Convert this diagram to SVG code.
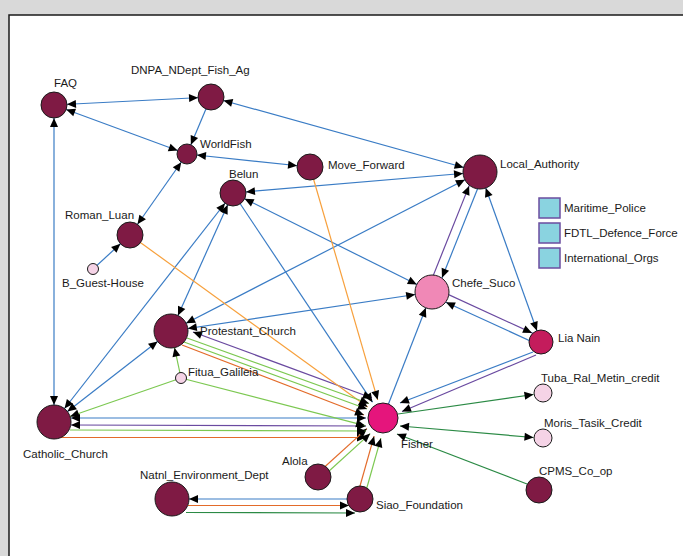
<svg xmlns="http://www.w3.org/2000/svg" width="683" height="556" viewBox="0 0 683 556">
<style>
.e{fill:none;stroke-width:1.2}
.b{stroke:#3a7cc5}
.p{stroke:#6a4aa0}
.o1{stroke:#f7a03c}
.o2{stroke:#e36b2a}
.g1{stroke:#7cc851}
.g2{stroke:#2b8a45}
.n{stroke:#1a1a1a;stroke-width:1}
.m{fill:#7f1a44}
.lp{fill:#f5d3e6}
.t{font-family:"Liberation Sans",Arial,sans-serif;font-size:11.5px;fill:#1a1a1a}
.lg{fill:#8ad3e0;stroke:#6b4ea0;stroke-width:1.5}
</style>
<defs>
<marker id="a0" markerUnits="userSpaceOnUse" markerWidth="9" markerHeight="8" refX="9" refY="4" orient="auto-start-reverse" overflow="visible"><path d="M0,0L9,4L0,8z" fill="#000"/></marker>
<marker id="a10" markerUnits="userSpaceOnUse" markerWidth="9" markerHeight="8" refX="19" refY="4" orient="auto-start-reverse" overflow="visible"><path d="M0,0L9,4L0,8z" fill="#000"/></marker>
<marker id="a12" markerUnits="userSpaceOnUse" markerWidth="9" markerHeight="8" refX="21" refY="4" orient="auto-start-reverse" overflow="visible"><path d="M0,0L9,4L0,8z" fill="#000"/></marker>
<marker id="a13" markerUnits="userSpaceOnUse" markerWidth="9" markerHeight="8" refX="22" refY="4" orient="auto-start-reverse" overflow="visible"><path d="M0,0L9,4L0,8z" fill="#000"/></marker>
<marker id="a17" markerUnits="userSpaceOnUse" markerWidth="9" markerHeight="8" refX="26" refY="4" orient="auto-start-reverse" overflow="visible"><path d="M0,0L9,4L0,8z" fill="#000"/></marker>
</defs>
<rect x="0" y="0" width="683" height="556" fill="#d9d9d9"/>
<rect x="9" y="15" width="690" height="560" fill="#fff" stroke="#1a1a1a" stroke-width="1.5"/>
<g id="connectors">
<line class="e b" x1="54" y1="105" x2="211" y2="97" marker-start="url(#a13)" marker-end="url(#a13)"/>
<line class="e b" x1="54" y1="105" x2="187" y2="154" marker-start="url(#a13)" marker-end="url(#a10)"/>
<line class="e b" x1="211" y1="97" x2="187" y2="154" marker-end="url(#a10)"/>
<line class="e b" x1="211" y1="97" x2="480" y2="172" marker-start="url(#a13)" marker-end="url(#a17)"/>
<line class="e b" x1="187" y1="154" x2="310" y2="167" marker-start="url(#a10)" marker-end="url(#a13)"/>
<line class="e b" x1="187" y1="154" x2="130" y2="235" marker-start="url(#a10)" marker-end="url(#a13)"/>
<line class="e b" x1="93" y1="269" x2="130" y2="235" marker-end="url(#a13)"/>
<line class="e b" x1="233" y1="193" x2="480" y2="172" marker-start="url(#a13)" marker-end="url(#a17)"/>
<line class="e b" x1="233" y1="193" x2="432" y2="292" marker-start="url(#a13)" marker-end="url(#a17)"/>
<line class="e b" x1="54" y1="422" x2="233" y2="193" marker-start="url(#a17)" marker-end="url(#a13)"/>
<line class="e b" x1="171" y1="331" x2="233" y2="193" marker-start="url(#a17)" marker-end="url(#a13)"/>
<line class="e b" x1="171" y1="331" x2="480" y2="172" marker-start="url(#a17)" marker-end="url(#a17)"/>
<line class="e b" x1="171" y1="331" x2="432" y2="292" marker-start="url(#a17)" marker-end="url(#a17)"/>
<line class="e b" x1="54" y1="422" x2="171" y2="331" marker-start="url(#a17)" marker-end="url(#a17)"/>
<line class="e b" x1="54" y1="105" x2="54" y2="422" marker-start="url(#a13)" marker-end="url(#a17)"/>
<line class="e b" x1="480" y1="172" x2="541" y2="342" marker-start="url(#a17)" marker-end="url(#a12)"/>
<line class="e b" x1="483.7" y1="173.5" x2="435.7" y2="293.5" marker-end="url(#a17)"/>
<line class="e b" x1="539.5" y1="345.2" x2="430.5" y2="295.2" marker-end="url(#a17)"/>
<line class="e b" x1="383" y1="418" x2="432" y2="292" marker-end="url(#a17)"/>
<line class="e b" x1="233" y1="193" x2="372.5" y2="402.2" marker-end="url(#a0)"/>
<line class="e b" x1="533" y1="352" x2="400" y2="403" marker-end="url(#a0)"/>
<line class="e b" x1="366" y1="418" x2="71" y2="418" marker-start="url(#a0)" marker-end="url(#a0)"/>
<line class="e b" x1="348" y1="499" x2="189" y2="499" marker-end="url(#a0)"/>
<line class="e p" x1="427.4" y1="290.1" x2="475.4" y2="170.1" marker-end="url(#a17)"/>
<line class="e p" x1="433.9" y1="287.9" x2="542.9" y2="337.9" marker-end="url(#a12)"/>
<line class="e p" x1="536" y1="355" x2="402" y2="411.5" marker-end="url(#a0)"/>
<line class="e p" x1="372" y1="398" x2="193" y2="332" marker-start="url(#a0)" marker-end="url(#a0)"/>
<line class="e p" x1="366" y1="426" x2="71" y2="425" marker-start="url(#a0)" marker-end="url(#a0)"/>
<line class="e o1" x1="310" y1="167" x2="377.7" y2="399.8" marker-end="url(#a0)"/>
<line class="e o1" x1="130" y1="235" x2="367.6" y2="406.9" marker-end="url(#a0)"/>
<line class="e o2" x1="182" y1="345" x2="364" y2="415" marker-end="url(#a0)"/>
<line class="e o2" x1="60" y1="437.5" x2="366" y2="437.5" marker-end="url(#a0)"/>
<line class="e o2" x1="316" y1="474.8" x2="366.9" y2="428.6" marker-end="url(#a0)"/>
<line class="e o2" x1="356.6" y1="498" x2="374.1" y2="436.2" marker-end="url(#a0)"/>
<line class="e o2" x1="188" y1="505.5" x2="349" y2="505.5" marker-end="url(#a0)"/>
<line class="e g1" x1="187" y1="338" x2="369" y2="403.5" marker-end="url(#a0)"/>
<line class="e g1" x1="184" y1="342" x2="367" y2="409" marker-end="url(#a0)"/>
<line class="e g1" x1="181" y1="378" x2="171" y2="331" marker-end="url(#a17)"/>
<line class="e g1" x1="181" y1="378" x2="54" y2="422" marker-end="url(#a17)"/>
<line class="e g1" x1="181" y1="378" x2="365" y2="425.6" marker-end="url(#a0)"/>
<line class="e g1" x1="70" y1="430" x2="366" y2="431" marker-end="url(#a0)"/>
<line class="e g1" x1="320" y1="479.2" x2="370.2" y2="433.6" marker-end="url(#a0)"/>
<line class="e g1" x1="363.4" y1="500" x2="380.9" y2="438.2" marker-end="url(#a0)"/>
<line class="e g2" x1="398" y1="414" x2="533.5" y2="394.5" marker-end="url(#a0)"/>
<line class="e g2" x1="400" y1="426" x2="533.5" y2="437.5" marker-start="url(#a0)" marker-end="url(#a0)"/>
<line class="e g2" x1="527" y1="484" x2="397" y2="434" marker-end="url(#a0)"/>
<line class="e g2" x1="186" y1="512.5" x2="355" y2="513" marker-end="url(#a0)"/>
</g>
<g id="FAQ"><circle class="n m" cx="54" cy="105" r="13"/><text class="t" x="54" y="87">FAQ</text></g>
<g id="DNPA_NDept_Fish_Ag"><circle class="n m" cx="211" cy="97" r="13"/><text class="t" x="131" y="74">DNPA_NDept_Fish_Ag</text></g>
<g id="WorldFish"><circle class="n m" cx="187" cy="154" r="10"/><text class="t" x="200" y="148">WorldFish</text></g>
<g id="Move_Forward"><circle class="n m" cx="310" cy="167" r="13"/><text class="t" x="328" y="169">Move_Forward</text></g>
<g id="Belun"><circle class="n m" cx="233" cy="193" r="13"/><text class="t" x="229" y="178">Belun</text></g>
<g id="Roman_Luan"><circle class="n m" cx="130" cy="235" r="13"/><text class="t" x="65" y="219">Roman_Luan</text></g>
<g id="B_Guest-House"><circle class="n lp" cx="93" cy="269" r="5.5"/><text class="t" x="62" y="286.5">B_Guest-House</text></g>
<g id="Local_Authority"><circle class="n m" cx="480" cy="172" r="17"/><text class="t" x="500" y="167.5">Local_Authority</text></g>
<g id="Chefe_Suco"><circle class="n" cx="432" cy="292" r="17" fill="#f088b6"/><text class="t" x="452" y="287">Chefe_Suco</text></g>
<g id="Lia_Nain"><circle class="n" cx="541" cy="342" r="12" fill="#c41c5c"/><text class="t" x="558" y="341.5">Lia Nain</text></g>
<g id="Protestant_Church"><circle class="n m" cx="171" cy="331" r="17"/><text class="t" x="200" y="334.5">Protestant_Church</text></g>
<g id="Fitua_Galileia"><circle class="n lp" cx="181" cy="378" r="5.5"/><text class="t" x="188" y="376">Fitua_Galileia</text></g>
<g id="Catholic_Church"><circle class="n m" cx="54" cy="422" r="17"/><text class="t" x="23" y="458">Catholic_Church</text></g>
<g id="Fisher"><circle class="n" cx="383" cy="418" r="15" fill="#e5157c"/><text class="t" x="401" y="448">Fisher</text></g>
<g id="Alola"><circle class="n m" cx="318" cy="477" r="13"/><text class="t" x="282" y="465">Alola</text></g>
<g id="Natnl_Environment_Dept"><circle class="n m" cx="172" cy="499" r="17"/><text class="t" x="140" y="479">Natnl_Environment_Dept</text></g>
<g id="Siao_Foundation"><circle class="n m" cx="360" cy="499" r="13"/><text class="t" x="376" y="509">Siao_Foundation</text></g>
<g id="Tuba_Ral_Metin_credit"><circle class="n lp" cx="543" cy="393" r="9"/><text class="t" x="541" y="381.5">Tuba_Ral_Metin_credit</text></g>
<g id="Moris_Tasik_Credit"><circle class="n lp" cx="543" cy="438" r="9"/><text class="t" x="544" y="426.5">Moris_Tasik_Credit</text></g>
<g id="CPMS_Co_op"><circle class="n m" cx="539" cy="490" r="13"/><text class="t" x="539" y="474.5">CPMS_Co_op</text></g>
<g id="Maritime_Police"><rect class="lg" x="539" y="198" width="21" height="20"/><text class="t" x="564" y="212">Maritime_Police</text></g>
<g id="FDTL_Defence_Force"><rect class="lg" x="539" y="223" width="21" height="20"/><text class="t" x="564" y="237">FDTL_Defence_Force</text></g>
<g id="International_Orgs"><rect class="lg" x="539" y="248" width="21" height="20"/><text class="t" x="564" y="262">International_Orgs</text></g>
</svg>
